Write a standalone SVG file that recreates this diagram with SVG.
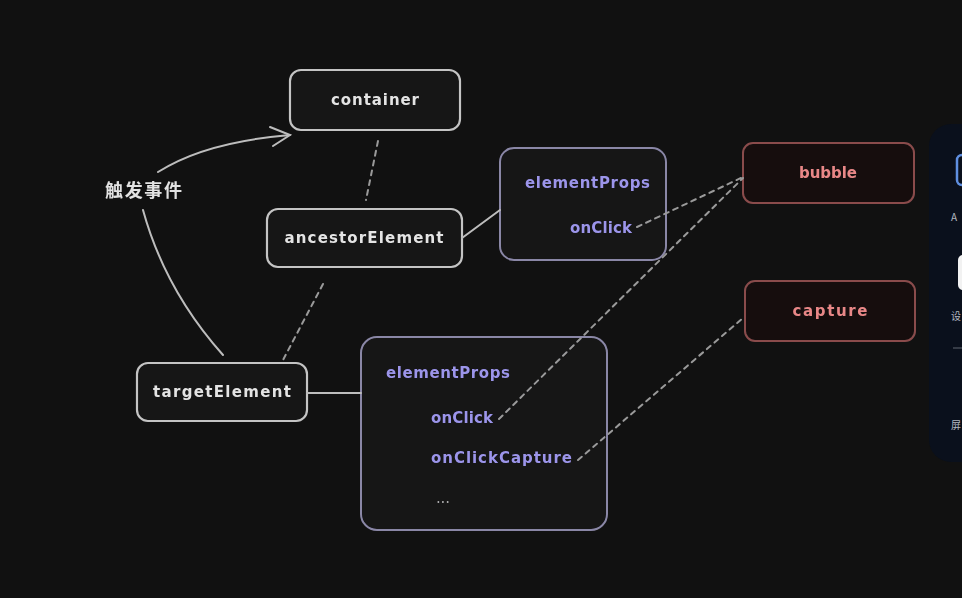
<svg xmlns="http://www.w3.org/2000/svg" width="962" height="598" viewBox="0 0 962 598">
<defs>
<style>
.bg{fill:#111111}
.node{fill:#121212;stroke:#c4c4c4;stroke-width:2.2}
.pnode{fill:#121215;stroke:#8a87a6;stroke-width:2}
.rnode{fill:#141111;stroke:#8a4c4c;stroke-width:2}
.t{font-family:"DejaVu Sans","Liberation Sans",sans-serif;font-size:15px;font-weight:bold;fill:#e4e4e4}
.tp{font-family:"DejaVu Sans","Liberation Sans",sans-serif;font-size:15px;font-weight:bold;fill:#9c95ea}
.tr{font-family:"DejaVu Sans","Liberation Sans",sans-serif;font-size:15px;font-weight:bold;fill:#e98787}
.cn{font-family:"Noto Sans CJK SC",sans-serif;font-size:18px;font-weight:bold;fill:#e2e2e2}
.solid{fill:none;stroke:#bdbdbd;stroke-width:2;stroke-linecap:round}
.dash{fill:none;stroke:#9a9a9a;stroke-width:2;stroke-dasharray:5 5;stroke-linecap:round}
.side{font-family:"Noto Sans CJK SC",sans-serif;font-size:10px;fill:#b4b8c0}
</style>
<filter id="soft" x="-5%" y="-5%" width="110%" height="110%"><feGaussianBlur stdDeviation="0.5"/></filter>
<clipPath id="panelclip"><rect x="929" y="124" width="33" height="338"/></clipPath>
</defs>
<rect class="bg" x="0" y="0" width="962" height="598"/>
<g filter="url(#soft)">
<g id="label-trigger"><text class="cn" x="105" y="197" textLength="77">触发事件</text></g>
<g id="container"><rect class="node" x="290" y="70" width="170" height="60" rx="11"/><text class="t" x="375" y="105" text-anchor="middle" textLength="88">container</text></g>
<g id="ancestorElement"><rect class="node" x="267" y="209" width="195" height="58" rx="11"/><text class="t" x="364" y="243" text-anchor="middle" textLength="159">ancestorElement</text></g>
<g id="ancestorProps"><rect class="pnode" x="500" y="148" width="166" height="112" rx="14"/><text class="tp" x="525" y="188" textLength="125">elementProps</text><text class="tp" x="570" y="233" textLength="62">onClick</text></g>
<g id="bubble"><rect class="rnode" x="743" y="143" width="171" height="60" rx="10"/><text class="tr" x="828" y="178" text-anchor="middle" textLength="58">bubble</text></g>
<g id="capture"><rect class="rnode" x="745" y="281" width="170" height="60" rx="10"/><text class="tr" x="830" y="316" text-anchor="middle" textLength="75">capture</text></g>
<g id="targetElement"><rect class="node" x="137" y="363" width="170" height="58" rx="11"/><text class="t" x="222" y="397" text-anchor="middle" textLength="138">targetElement</text></g>
<g id="targetProps"><rect class="pnode" x="361" y="337" width="246" height="193" rx="16"/><text class="tp" x="386" y="378" textLength="124">elementProps</text><text class="tp" x="431" y="423" textLength="62">onClick</text><text class="tp" x="431" y="463" textLength="141">onClickCapture</text><text class="t" x="436" y="503" style="font-weight:normal;fill:#aaaaaa" textLength="14">...</text></g>
<g id="connectors">
<path class="solid" d="M158,172 Q205,142 290,135"/>
<path class="solid" d="M270,127 L290,135 L273,146"/>
<path class="solid" d="M143,210 Q165,290 223,355"/>
<path class="dash" d="M378,141 L366,200"/>
<path class="dash" d="M323,284 L283,360"/>
<path class="solid" d="M462,238 L500,210"/>
<path class="solid" d="M307,393 L361,393"/>
<path class="dash" d="M637,227 L743,177"/>
<path class="dash" d="M499,419 L743,178"/>
<path class="dash" d="M578,460 L743,318"/>
</g>
</g>
<g id="side-panel" clip-path="url(#panelclip)">
<rect x="929" y="124" width="60" height="338" rx="22" fill="#0a101c"/>
<rect x="957" y="155" width="20" height="30" rx="5" fill="none" stroke="#5f8fe0" stroke-width="2.5"/>
<text class="side" x="951" y="221" font-size="13">A</text>
<rect x="958" y="255" width="20" height="35" rx="5" fill="#f2f2f2"/>
<text class="side" x="951" y="320">设</text>
<line x1="953" y1="348" x2="962" y2="348" stroke="#444a55" stroke-width="1.5"/>
<text class="side" x="951" y="429">屏</text>
</g>
</svg>
